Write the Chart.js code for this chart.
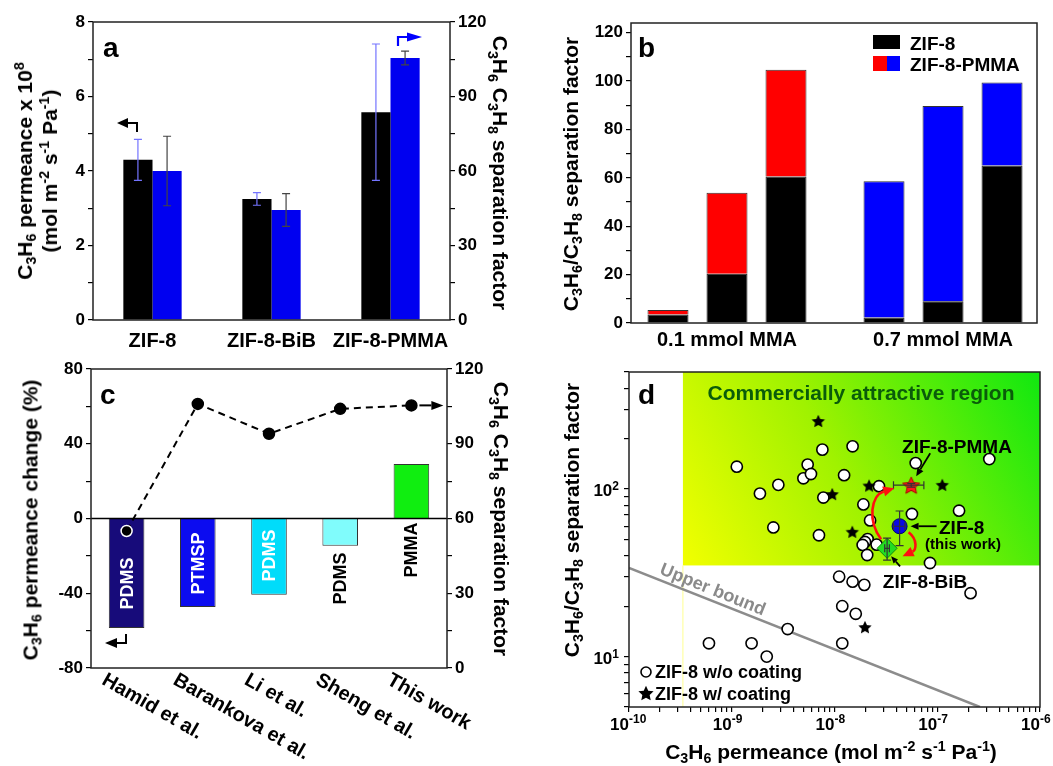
<!DOCTYPE html>
<html><head><meta charset="utf-8">
<script src="https://cdn.jsdelivr.net/npm/chart.js@4.4.0/dist/chart.umd.min.js"></script>
<style>
html,body{margin:0;padding:0;background:#fff;}
body{width:1053px;height:766px;overflow:hidden;position:relative;font-family:"Liberation Sans",Arial,Helvetica,sans-serif;}
canvas{position:absolute;left:0;top:0;}
.tx{position:absolute;font-weight:bold;color:#000;white-space:nowrap;line-height:1;}
.c{transform:translate(-50%,-50%);}
.l{transform:translate(0,-50%);}
.rl{transform:translate(-50%,-50%) rotate(-90deg);text-align:center;}
.rr{transform:translate(-50%,-50%) rotate(90deg);text-align:center;}
sub{font-size:68%;vertical-align:-0.3em;line-height:0;}
sup{font-size:68%;vertical-align:0.55em;line-height:0;}
.box{position:absolute;}
</style></head>
<body>
<canvas id="ca" width="1053" height="766"></canvas>
<canvas id="cb" width="1053" height="766"></canvas>
<canvas id="cc" width="1053" height="766"></canvas>
<canvas id="cd" width="1053" height="766"></canvas>

<!-- panel letters -->
<div class="tx" style="left:103px;top:34px;font-size:28px">a</div>
<div class="tx" style="left:638px;top:34px;font-size:28px">b</div>
<div class="tx" style="left:100px;top:381px;font-size:28px">c</div>
<div class="tx" style="left:638px;top:381px;font-size:28px">d</div>

<!-- axis titles -->
<div class="tx rl" style="left:37px;top:171px;font-size:21px;line-height:25px">C<sub>3</sub>H<sub>6</sub> permeance x 10<sup>8</sup><br>(mol m<sup>-2</sup> s<sup>-1</sup> Pa<sup>-1</sup>)</div>
<div class="tx rr" style="left:500px;top:173px;font-size:21px">C<sub>3</sub>H<sub>6</sub> C<sub>3</sub>H<sub>8</sub> separation factor</div>
<div class="tx rl" style="left:570px;top:174px;font-size:21px">C<sub>3</sub>H<sub>6</sub>/C<sub>3</sub>H<sub>8</sub> separation factor</div>
<div class="tx rl" style="left:30px;top:520px;font-size:21px">C<sub>3</sub>H<sub>6</sub> permeance change (%)</div>
<div class="tx rr" style="left:501px;top:519px;font-size:21px">C<sub>3</sub>H<sub>6</sub> C<sub>3</sub>H<sub>8</sub> separation factor</div>
<div class="tx rl" style="left:571px;top:520px;font-size:21px">C<sub>3</sub>H<sub>6</sub>/C<sub>3</sub>H<sub>8</sub> separation factor</div>
<div class="tx c" style="left:831px;top:751px;font-size:21px">C<sub>3</sub>H<sub>6</sub> permeance (mol m<sup>-2</sup> s<sup>-1</sup> Pa<sup>-1</sup>)</div>

<!-- panel b legend -->
<div class="box" style="left:873px;top:35px;width:27px;height:14px;background:#000"></div>
<div class="box" style="left:873px;top:56px;width:14px;height:15px;background:#ff0000"></div>
<div class="box" style="left:887px;top:56px;width:13px;height:15px;background:#0000ff"></div>
<div class="tx l" style="left:910px;top:43px;font-size:19px">ZIF-8</div>
<div class="tx l" style="left:910px;top:64px;font-size:19px">ZIF-8-PMMA</div>

<!-- panel d annotations -->
<div class="tx c" style="left:861px;top:392px;font-size:21px;color:#0a5c0a">Commercially attractive region</div>
<div class="tx" style="left:713px;top:589px;font-size:18px;color:#8a8a8a;transform:translate(-50%,-50%) rotate(22deg)">Upper bound</div>
<div class="tx c" style="left:957px;top:446px;font-size:19px">ZIF-8-PMMA</div>
<div class="tx l" style="left:939px;top:527px;font-size:19px">ZIF-8</div>
<div class="tx c" style="left:963px;top:543px;font-size:15px">(this work)</div>
<div class="tx c" style="left:925px;top:581px;font-size:19px">ZIF-8-BiB</div>
<div class="tx l" style="left:655px;top:672px;font-size:18px">ZIF-8 w/o coating</div>
<div class="tx l" style="left:655px;top:694px;font-size:18px">ZIF-8 w/ coating</div>

<script>
// ================= DATA =================
// Panel a
const aCategories = ['ZIF-8', 'ZIF-8-BiB', 'ZIF-8-PMMA'];
const aPermeance = [4.30, 3.25, 5.58];          // x 1e-8 mol m-2 s-1 Pa-1
const aPermeanceErr = [0.55, 0.17, 1.83];
const aSepFactor = [60.0, 44.3, 105.5];
const aSepFactorErr = [14.0, 6.6, 2.8];
const aLeftTicks = [0, 1, 2, 3, 4, 5, 6, 7, 8];
const aRightTicks = [0, 15, 30, 45, 60, 75, 90, 105, 120];

// Panel b
const bGroups = ['0.1 mmol MMA', '0.7 mmol MMA'];
const bZif8Low = [3.5, 20.4, 60.6];
const bPmmaLow = [5.4, 53.8, 104.7];
const bZif8High = [2.3, 9.0, 65.1];
const bPmmaHigh = [58.6, 89.7, 99.4];
const bTicks = [0, 10, 20, 30, 40, 50, 60, 70, 80, 90, 100, 110, 120];

// Panel c
const cRefs = ['Hamid et al.', 'Barankova et al.', 'Li et al.', 'Sheng et al.', 'This work'];
const cCoatings = ['PDMS', 'PTMSP', 'PDMS', 'PDMS', 'PMMA'];
const cPermChange = [-58.6, -47.4, -40.8, -14.6, 29.2];
const cSepFactor = [55.0, 106.0, 94.0, 104.0, 105.4];
const cLeftTicks = [-80, -60, -40, -20, 0, 20, 40, 60, 80];
const cRightTicks = [0, 15, 30, 45, 60, 75, 90, 105, 120];

// Panel d
const dUncoatedX = [1.12e-9, 1.88e-9, 2.84e-9, 2.54e-9, 5.48e-9, 4.98e-9, 5.9e-9, 7.62e-9, 7.79e-9, 7.06e-9,
  1.24e-8, 1.5e-8, 1.91e-8, 2.22e-8, 2.71e-8, 2.1e-8, 1.98e-8, 1.88e-8, 2.08e-8, 2.57e-8,
  6.17e-8, 5.67e-8, 8.5e-8, 1.63e-7, 3.21e-7, 2.11e-7, 1.11e-8, 1.5e-8, 1.95e-8, 1.19e-8,
  1.61e-8, 3.5e-9, 1.19e-8, 6.0e-10, 1.56e-9, 2.19e-9];
const dUncoatedY = [136, 94, 106, 59, 140, 116, 123, 172, 89, 53,
  121, 180, 81, 65, 104, 50.3, 48.3, 46.4, 40.4, 46.6,
  143, 71, 36.2, 74.3, 151, 23.9, 30, 28, 26.8, 20,
  18, 14.6, 12.0, 12.0, 12.0, 10.0];
const dCoatedX = [6.95e-9, 9.5e-9, 2.17e-8, 1.49e-8, 1.12e-7, 1.98e-8];
const dCoatedY = [255, 93.3, 105, 55.6, 106, 15];
const dUpperBoundX = [1e-10, 2.6e-7];
const dUpperBoundY = [33.8, 5];
const dRegionMinPermeance = 3.348e-10;
const dRegionMinSelectivity = 35;
const dXDecades = [-10, -9, -8, -7, -6];
const dYDecades = [1, 2];
const dYTicks = [5, 6, 7, 8, 9, 10, 20, 30, 40, 50, 60, 70, 80, 90, 100, 200, 300, 400, 500];

// ================= HELPERS =================
const FONT = '"Liberation Sans", Arial, Helvetica, sans-serif';
Chart.defaults.font.family = FONT;
Chart.defaults.color = '#000';
const TF = {size: 17, weight: 'bold', family: FONT};

function baseOpts(pad) {
  return {responsive: false, animation: false, devicePixelRatio: 1, events: [],
    layout: {padding: pad},
    plugins: {legend: {display: false}, tooltip: {enabled: false}}};
}
function valAxis(pos, min, max, tickVals, labelFn, width, type) {
  return {type: type || 'linear', position: pos, min: min, max: max,
    afterBuildTicks: s => { s.ticks = tickVals.map(v => ({value: v})); },
    afterFit: s => { s.width = width; },
    ticks: {autoSkip: false, font: TF, color: '#000', padding: 3, callback: labelFn},
    grid: {drawOnChartArea: false, drawTicks: true, tickLength: 5, color: '#000', lineWidth: 1.2},
    border: {display: false}};
}
function frame(ctx, a) {
  ctx.save(); ctx.strokeStyle = '#222'; ctx.lineWidth = 1.5;
  ctx.strokeRect(a.left, a.top, a.right - a.left, a.bottom - a.top); ctx.restore();
}
function arrow(ctx, pts, color, lw, hl, hw) {
  const n = pts.length, tx = pts[n-1][0], ty = pts[n-1][1], px = pts[n-2][0], py = pts[n-2][1];
  const ang = Math.atan2(ty - py, tx - px);
  const bx = tx - hl * Math.cos(ang), by = ty - hl * Math.sin(ang);
  ctx.save(); ctx.strokeStyle = color; ctx.fillStyle = color; ctx.lineWidth = lw; ctx.setLineDash([]);
  ctx.beginPath(); ctx.moveTo(pts[0][0], pts[0][1]);
  for (let i = 1; i < n - 1; i++) ctx.lineTo(pts[i][0], pts[i][1]);
  ctx.lineTo(bx, by); ctx.stroke();
  ctx.beginPath(); ctx.moveTo(tx, ty);
  ctx.lineTo(bx + hw / 2 * Math.sin(ang), by - hw / 2 * Math.cos(ang));
  ctx.lineTo(bx - hw / 2 * Math.sin(ang), by + hw / 2 * Math.cos(ang));
  ctx.closePath(); ctx.fill(); ctx.restore();
}
function curveArrow(ctx, p0, c1, c2, p1, color, lw, hl, hw) {
  const ang = Math.atan2(p1[1] - c2[1], p1[0] - c2[0]);
  const bx = p1[0] - hl * Math.cos(ang), by = p1[1] - hl * Math.sin(ang);
  ctx.save(); ctx.strokeStyle = color; ctx.fillStyle = color; ctx.lineWidth = lw;
  ctx.beginPath(); ctx.moveTo(p0[0], p0[1]); ctx.bezierCurveTo(c1[0], c1[1], c2[0], c2[1], bx, by); ctx.stroke();
  ctx.beginPath(); ctx.moveTo(p1[0], p1[1]);
  ctx.lineTo(bx + hw / 2 * Math.sin(ang), by - hw / 2 * Math.cos(ang));
  ctx.lineTo(bx - hw / 2 * Math.sin(ang), by + hw / 2 * Math.cos(ang));
  ctx.closePath(); ctx.fill(); ctx.restore();
}
function starImage(r, fill, stroke) {
  const s = Math.ceil(r * 2 + 4), c = document.createElement('canvas');
  c.width = s; c.height = s;
  const g = c.getContext('2d'), cx = s / 2, cy = s / 2 + r * 0.1;
  g.beginPath();
  for (let i = 0; i < 10; i++) {
    const rr = i % 2 === 0 ? r : r * 0.48, an = -Math.PI / 2 + i * Math.PI / 5;
    g.lineTo(cx + rr * Math.cos(an), cy + rr * Math.sin(an));
  }
  g.closePath(); g.fillStyle = fill; g.fill();
  if (stroke) { g.strokeStyle = stroke; g.lineWidth = 1; g.stroke(); }
  return c;
}
function vErr(ctx, x, yTop, yBot, color, cap) {
  ctx.save(); ctx.strokeStyle = color; ctx.lineWidth = 1.2; ctx.beginPath();
  ctx.moveTo(x, yTop); ctx.lineTo(x, yBot);
  ctx.moveTo(x - cap, yTop); ctx.lineTo(x + cap, yTop);
  ctx.moveTo(x - cap, yBot); ctx.lineTo(x + cap, yBot);
  ctx.stroke(); ctx.restore();
}
function hErr(ctx, y, xL, xR, color, cap) {
  ctx.save(); ctx.strokeStyle = color; ctx.lineWidth = 1.2; ctx.beginPath();
  ctx.moveTo(xL, y); ctx.lineTo(xR, y);
  ctx.moveTo(xL, y - cap); ctx.lineTo(xL, y + cap);
  ctx.moveTo(xR, y - cap); ctx.lineTo(xR, y + cap);
  ctx.stroke(); ctx.restore();
}

// ================= PANEL A =================
new Chart(document.getElementById('ca'), {
  type: 'bar',
  data: {labels: aCategories, datasets: [
    {label: 'C3H6 permeance', data: aPermeance, yAxisID: 'y', backgroundColor: '#000', borderColor: '#000', borderWidth: 0,
      errs: aPermeanceErr, errColor: '#7474ff'},
    {label: 'C3H6/C3H8 separation factor', data: aSepFactor, yAxisID: 'y2', backgroundColor: '#0000f0', borderColor: '#0000f0', borderWidth: 0,
      errs: aSepFactorErr, errColor: '#444'}
  ]},
  options: Object.assign(baseOpts({left: 93 - 60, right: 1053 - 450 - 60, top: 22, bottom: 766 - 320 - 40}), {
    datasets: {bar: {categoryPercentage: 0.49, barPercentage: 1}},
    scales: {
      x: {type: 'category', afterFit: s => { s.height = 40; },
        grid: {display: false, drawTicks: false}, border: {display: false},
        ticks: {font: {size: 20, weight: 'bold', family: FONT}, color: '#000', padding: 9, autoSkip: false, maxRotation: 0}},
      y: valAxis('left', 0, 8, aLeftTicks, v => (v % 2 === 0 ? String(v) : ''), 60),
      y2: valAxis('right', 0, 120, aRightTicks, v => (v % 30 === 0 ? String(v) : ''), 60)
    }
  }),
  plugins: [{
    id: 'aExtras',
    afterDatasetsDraw(chart) {
      const ctx = chart.ctx;
      chart.data.datasets.forEach((ds, i) => {
        const meta = chart.getDatasetMeta(i), sc = chart.scales[ds.yAxisID];
        meta.data.forEach((el, j) => {
          vErr(ctx, el.x, sc.getPixelForValue(ds.data[j] + ds.errs[j]), sc.getPixelForValue(ds.data[j] - ds.errs[j]), ds.errColor, 4);
        });
      });
    },
    afterDraw(chart) {
      const ctx = chart.ctx, a = chart.chartArea;
      frame(ctx, a);
      arrow(ctx, [[a.left + 44, a.top + 110], [a.left + 44, a.top + 101], [a.left + 24, a.top + 101]], '#000', 2, 11, 10);
      arrow(ctx, [[a.left + 305, a.top + 24], [a.left + 305, a.top + 15], [a.left + 329, a.top + 15]], '#0000ff', 2.2, 15, 9);
    }
  }]
});

// ================= PANEL B =================
const bDatasets = [];
for (let j = 0; j < 3; j++) {
  bDatasets.push({label: 'ZIF-8', stack: 's' + j,
    data: [{x: 1, y: bZif8Low[j]}, {x: 2, y: bZif8High[j]}],
    backgroundColor: '#000', borderColor: '#222', borderWidth: 1});
  bDatasets.push({label: 'ZIF-8-PMMA', stack: 's' + j,
    data: [{x: 1, y: bPmmaLow[j] - bZif8Low[j]}, {x: 2, y: bPmmaHigh[j] - bZif8High[j]}],
    backgroundColor: ['#ff0000', '#0000ff'], borderColor: '#333', borderWidth: 1});
}
new Chart(document.getElementById('cb'), {
  type: 'bar',
  data: {datasets: bDatasets},
  options: Object.assign(baseOpts({left: 631 - 60, right: 1053 - 1037, top: 23, bottom: 766 - 323 - 40}), {
    datasets: {bar: {categoryPercentage: 0.8194, barPercentage: 0.695}},
    scales: {
      x: {type: 'linear', stacked: true, offset: false, min: 0.5556, max: 2.435,
        afterBuildTicks: s => { s.ticks = [{value: 1}, {value: 2}]; },
        afterFit: s => { s.height = 40; },
        grid: {display: false, drawTicks: false, offset: false}, border: {display: false},
        ticks: {font: {size: 20, weight: 'bold', family: FONT}, color: '#000', padding: 5, autoSkip: false, maxRotation: 0,
          callback: v => bGroups[Math.round(v) - 1] || ''}},
      y: Object.assign(valAxis('left', 0, 124, bTicks, v => (v % 20 === 0 ? String(v) : ''), 60), {stacked: true})
    }
  }),
  plugins: [{id: 'bFrame', afterDraw(chart) { frame(chart.ctx, chart.chartArea); }}]
});

// ================= PANEL C =================
new Chart(document.getElementById('cc'), {
  type: 'bar',
  data: {labels: cRefs, datasets: [
    {type: 'line', label: 'Separation factor', data: cSepFactor, yAxisID: 'y2', order: 0,
      borderColor: '#000', borderWidth: 2, borderDash: [7, 5], fill: false, tension: 0,
      pointRadius: 5.5, pointBackgroundColor: '#000', pointBorderColor: ['#fff', '#000', '#000', '#000', '#000'], pointBorderWidth: 1.5},
    {type: 'bar', label: 'Permeance change', data: cPermChange, yAxisID: 'y', order: 1,
      backgroundColor: ['#170b7a', '#0c0cf0', '#00dcfa', '#80fcfc', '#10ee10'], borderColor: '#333', borderWidth: 1,
      categoryPercentage: 0.5, barPercentage: 1}
  ]},
  options: Object.assign(baseOpts({left: 91 - 60, right: 1053 - 447 - 60, top: 369, bottom: 766 - 668 - 10}), {
    scales: {
      x: {type: 'category', afterFit: s => { s.height = 10; },
        grid: {display: false, drawTicks: false}, border: {display: false}, ticks: {display: false}},
      y: valAxis('left', -80, 80, cLeftTicks, v => (v % 40 === 0 ? String(v) : ''), 60),
      y2: valAxis('right', 0, 120, cRightTicks, v => (v % 30 === 0 ? String(v) : ''), 60)
    }
  }),
  plugins: [{
    id: 'cExtras',
    afterDatasetsDraw(chart) {
      const ctx = chart.ctx, ys = chart.scales.y;
      const meta = chart.getDatasetMeta(1);
      const y0 = ys.getPixelForValue(0);
      const textTop = [39, 14, 11, 34, 4];
      const textCol = ['#fff', '#fff', '#fff', '#000', '#000'];
      ctx.save();
      ctx.font = 'bold 18px ' + FONT; ctx.textAlign = 'center'; ctx.textBaseline = 'middle';
      meta.data.forEach((el, i) => {
        const w = ctx.measureText(cCoatings[i]).width;
        ctx.save(); ctx.translate(el.x, y0 + textTop[i] + w / 2); ctx.rotate(-Math.PI / 2);
        ctx.fillStyle = textCol[i]; ctx.fillText(cCoatings[i], 0, 1); ctx.restore();
      });
      ctx.restore();
    },
    afterDraw(chart) {
      const ctx = chart.ctx, a = chart.chartArea, xs = chart.scales.x, ys = chart.scales.y;
      const y0 = ys.getPixelForValue(0);
      ctx.save(); ctx.strokeStyle = '#000'; ctx.lineWidth = 1.5;
      ctx.beginPath(); ctx.moveTo(a.left, y0); ctx.lineTo(a.right, y0); ctx.stroke(); ctx.restore();
      frame(ctx, a);
      ctx.save(); ctx.font = 'bold 20px ' + FONT; ctx.fillStyle = '#000'; ctx.textAlign = 'left'; ctx.textBaseline = 'top';
      cRefs.forEach((t, i) => {
        const x = xs.getPixelForValue(i);
        ctx.save(); ctx.translate(x - 18, a.bottom + 2); ctx.rotate(30 * Math.PI / 180); ctx.fillText(t, 0, 0); ctx.restore();
      });
      ctx.restore();
      const last = chart.getDatasetMeta(0).data[cSepFactor.length - 1];
      arrow(ctx, [[last.x + 8, last.y], [last.x + 32, last.y]], '#000', 2, 12, 9);
      arrow(ctx, [[a.left + 35, a.bottom - 34], [a.left + 35, a.bottom - 25], [a.left + 14, a.bottom - 25]], '#000', 2, 12, 10);
    }
  }]
});

// ================= PANEL D =================
const starBlack = starImage(7, '#000');
const starRed = starImage(9, '#ff1a1a', '#aa0000');
const dUncoated = dUncoatedX.map((x, i) => ({x: x, y: dUncoatedY[i]}));
const dCoated = dCoatedX.map((x, i) => ({x: x, y: dCoatedY[i]}));
const dUpper = dUpperBoundX.map((x, i) => ({x: x, y: dUpperBoundY[i]}));
const dZif8 = [{x: aPermeance[0] * 1e-8, y: aSepFactor[0]}];
const dBiB = [{x: aPermeance[1] * 1e-8, y: aSepFactor[1]}];
const dPmma = [{x: aPermeance[2] * 1e-8, y: aSepFactor[2]}];

new Chart(document.getElementById('cd'), {
  type: 'scatter',
  data: {datasets: [
    {label: 'Upper bound', data: dUpper, showLine: true, borderColor: '#8c8c8c', borderWidth: 2.5, pointRadius: 0, order: 9},
    {label: 'ZIF-8 w/o coating', data: dUncoated, pointStyle: 'circle', pointRadius: 5.6, pointBackgroundColor: '#fff', pointBorderColor: '#000', pointBorderWidth: 1.6, order: 5},
    {label: 'ZIF-8 w/ coating', data: dCoated, pointStyle: starBlack, pointRadius: 7, order: 4},
    {label: 'ZIF-8 (this work)', data: dZif8, pointStyle: 'circle', pointRadius: 7.5, pointBackgroundColor: '#0a0ae6', pointBorderColor: '#000070', pointBorderWidth: 1, order: 3,
      xErr: aPermeanceErr[0] * 1e-8, yErr: aSepFactorErr[0]},
    {label: 'ZIF-8-BiB', data: dBiB, pointStyle: 'rectRot', pointRadius: 10, pointBackgroundColor: '#22dd22', pointBorderColor: '#118811', pointBorderWidth: 1, order: 2,
      xErr: aPermeanceErr[1] * 1e-8, yErr: aSepFactorErr[1]},
    {label: 'ZIF-8-PMMA', data: dPmma, pointStyle: starRed, pointRadius: 9, order: 1,
      xErr: aPermeanceErr[2] * 1e-8, yErr: aSepFactorErr[2]}
  ]},
  options: Object.assign(baseOpts({left: 629 - 60, right: 1053 - 1040, top: 372, bottom: 766 - 707 - 40}), {
    scales: {
      x: {type: 'logarithmic', position: 'bottom', min: 1e-10, max: 1e-6,
        afterBuildTicks: s => {
          const t = [];
          dXDecades.forEach(e => { for (let m = 1; m <= 9; m++) { if (e === -6 && m > 1) break; t.push({value: m * Math.pow(10, e)}); } });
          s.ticks = t;
        },
        afterFit: s => { s.height = 40; },
        ticks: {display: false, autoSkip: false},
        grid: {drawOnChartArea: false, drawTicks: true, tickLength: 5, color: '#000', lineWidth: 1.2},
        border: {display: false}},
      y: Object.assign(valAxis('left', 5, 500, dYTicks, () => '', 60, 'logarithmic'), {ticks: {display: false, autoSkip: false}})
    }
  }),
  plugins: [{
    id: 'dExtras',
    beforeDatasetsDraw(chart) {
      const ctx = chart.ctx, a = chart.chartArea, xs = chart.scales.x, ys = chart.scales.y;
      const x0 = xs.getPixelForValue(dRegionMinPermeance), y0 = ys.getPixelForValue(dRegionMinSelectivity);
      const g = ctx.createLinearGradient(x0, y0, a.right, a.top);
      g.addColorStop(0, '#f2ff00'); g.addColorStop(0.45, '#a0f200'); g.addColorStop(1, '#10e810');
      ctx.save(); ctx.fillStyle = g; ctx.fillRect(x0, a.top, a.right - x0, y0 - a.top);
      ctx.strokeStyle = '#ffff90'; ctx.lineWidth = 1; ctx.beginPath(); ctx.moveTo(x0, y0); ctx.lineTo(x0, a.bottom); ctx.stroke();
      ctx.restore();
    },
    afterDatasetsDraw(chart) {
      const ctx = chart.ctx, xs = chart.scales.x, ys = chart.scales.y;
      const pts = {};
      chart.data.datasets.forEach((ds, i) => {
        if (ds.xErr === undefined) return;
        const d = ds.data[0], el = chart.getDatasetMeta(i).data[0];
        pts[ds.label] = [el.x, el.y];
        hErr(ctx, el.y, xs.getPixelForValue(d.x - ds.xErr), xs.getPixelForValue(d.x + ds.xErr), '#333', 4);
        vErr(ctx, el.x, ys.getPixelForValue(d.y + ds.yErr), ys.getPixelForValue(d.y - ds.yErr), '#333', 4);
      });
      const pB = pts['ZIF-8-BiB'], pP = pts['ZIF-8-PMMA'], pZ = pts['ZIF-8 (this work)'];
      curveArrow(ctx, [pB[0] - 6, pB[1] - 9], [pB[0] - 20, pB[1] - 28], [pP[0] - 40, pP[1] + 10], [pP[0] - 17, pP[1] + 3], '#ff1010', 2.6, 11, 10);
      curveArrow(ctx, [pZ[0] + 9, pZ[1] + 6], [pZ[0] + 19, pZ[1] + 14], [pZ[0] + 16, pZ[1] + 24], [pZ[0] + 3, pZ[1] + 30], '#ff1010', 2.6, 11, 10);
      arrow(ctx, [[pP[0] + 19, pP[1] - 32], [pP[0] + 5, pP[1] - 9]], '#000', 1.8, 8, 7);
      arrow(ctx, [[pZ[0] + 37, pZ[1]], [pZ[0] + 11, pZ[1]]], '#000', 1.8, 8, 7);
      arrow(ctx, [[pB[0] + 13, pB[1] + 18], [pB[0] + 4, pB[1] + 8]], '#000', 1.8, 7, 6);
    },
    afterDraw(chart) {
      const ctx = chart.ctx, a = chart.chartArea, xs = chart.scales.x, ys = chart.scales.y;
      frame(ctx, a);
      ctx.save(); ctx.fillStyle = '#000'; ctx.textBaseline = 'alphabetic'; ctx.textAlign = 'left';
      dXDecades.forEach(e => {
        const x = xs.getPixelForValue(Math.pow(10, e));
        ctx.font = 'bold 17px ' + FONT; const w1 = ctx.measureText('10').width;
        ctx.fillText('10', x - w1, a.bottom + 23);
        ctx.font = 'bold 12px ' + FONT; ctx.fillText(String(e), x, a.bottom + 16);
      });
      dYDecades.forEach(e => {
        const y = ys.getPixelForValue(Math.pow(10, e));
        ctx.font = 'bold 12px ' + FONT; const w2 = ctx.measureText(String(e)).width;
        ctx.font = 'bold 17px ' + FONT; const w1 = ctx.measureText('10').width;
        const x0 = a.left - 10 - w1 - w2;
        ctx.fillText('10', x0, y + 7);
        ctx.font = 'bold 12px ' + FONT; ctx.fillText(String(e), x0 + w1, y + 1);
      });
      ctx.restore();
      ctx.save();
      ctx.beginPath(); ctx.arc(a.left + 17, a.bottom - 35, 5, 0, Math.PI * 2);
      ctx.fillStyle = '#fff'; ctx.fill(); ctx.strokeStyle = '#000'; ctx.lineWidth = 1.6; ctx.stroke();
      const st = starImage(8, '#000');
      ctx.drawImage(st, a.left + 17 - st.width / 2, a.bottom - 14 - st.height / 2);
      ctx.restore();
    }
  }]
});
</script>
</body></html>
